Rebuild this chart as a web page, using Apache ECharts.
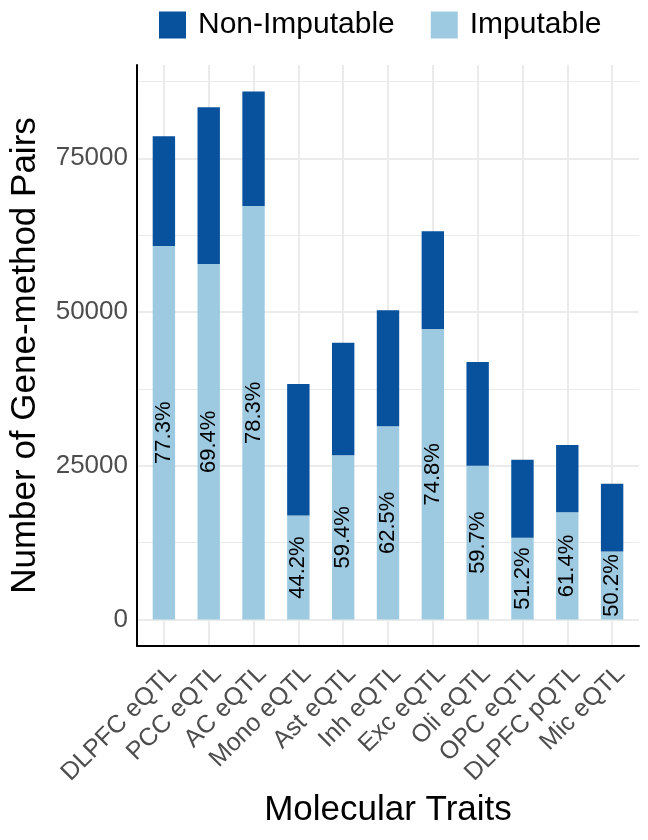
<!DOCTYPE html>
<html>
<head>
<meta charset="utf-8">
<script src="https://cdn.jsdelivr.net/npm/echarts@6/dist/echarts.min.js"></script>
<style>
  html, body { margin: 0; padding: 0; background: #fff; }
  #chart { width: 648px; height: 840px; }
</style>
</head>
<body>
<div id="chart"></div>
<script>
// molecular traits, left to right
var traits = ["DLPFC eQTL", "PCC eQTL", "AC eQTL", "Mono eQTL", "Ast eQTL", "Inh eQTL",
  "Exc eQTL", "Oli eQTL", "OPC eQTL", "DLPFC pQTL", "Mic eQTL"];
// gene-method pairs
var imputable = [60760, 57810, 67240, 16930, 26730, 31440, 47240, 25010, 13310, 17440, 11090];
var nonImputable = [17840, 25490, 18640, 21370, 18270, 18860, 15910, 16890, 12690, 10960, 11010];
var pctLabels = ["77.3%", "69.4%", "78.3%", "44.2%", "59.4%", "62.5%", "74.8%", "59.7%", "51.2%", "61.4%", "50.2%"];
var yTicks = [0, 25000, 50000, 75000];
var yMinor = [12500, 37500, 62500, 87500];
var xTicks = [0, 1, 2, 3, 4, 5, 6, 7, 8, 9, 10];

var font = "Liberation Sans, Arial, sans-serif";
var chart = echarts.init(document.getElementById("chart"));

// value first, trait index second, so the stack goes along y
function rows(vals) {
  return vals.map(function (v, i) { return [v, i]; });
}

chart.setOption({
  animation: false,
  textStyle: { fontFamily: font },
  legend: {
    data: ["Non-Imputable", "Imputable"],
    left: 154,
    top: 5,
    icon: "rect",
    itemWidth: 27,
    itemHeight: 27,
    itemGap: 36,
    selectedMode: false,
    textStyle: { fontSize: 30, color: "#000", padding: [0, 0, 0, 7] }
  },
  grid: { left: 137, right: 9, top: 65, bottom: 194, outerBoundsMode: "none", containLabel: false },
  xAxis: {
    type: "value",
    min: -0.6,
    max: 10.6,
    name: "Molecular Traits",
    nameLocation: "middle",
    nameGap: 147,
    nameTextStyle: { fontSize: 35, color: "#000" },
    axisLine: { show: true, onZero: false, lineStyle: { color: "#000", width: 2 } },
    axisTick: { show: false, customValues: xTicks },
    axisLabel: {
      customValues: xTicks,
      rotate: 45,
      align: "right",
      verticalAlign: "top",
      margin: 15,
      fontSize: 25,
      color: "#4D4D4D",
      formatter: function (v) { return traits[Math.round(v)]; }
    },
    splitLine: { show: true, lineStyle: { color: "#EBEBEB", width: 2 } }
  },
  yAxis: {
    type: "value",
    min: -4294,
    max: 90170,
    name: "Number of Gene-method Pairs",
    nameLocation: "middle",
    nameRotate: 90,
    nameGap: 94,
    nameTextStyle: { fontSize: 35, color: "#000" },
    axisLine: { show: true, onZero: false, lineStyle: { color: "#000", width: 2 } },
    axisTick: { show: false, customValues: yTicks },
    axisLabel: {
      customValues: yTicks,
      margin: 9,
      fontSize: 26,
      color: "#4D4D4D",
      formatter: function (v) { return String(v); }
    },
    splitLine: { show: true, lineStyle: { color: "#EBEBEB", width: 2 } }
  },
  series: [
    {
      // minor grid lines, kept under the bars
      type: "line",
      name: "grid",
      z: 0,
      data: [],
      markLine: {
        z: 0,
        silent: true,
        symbol: "none",
        label: { show: false },
        lineStyle: { color: "#EBEBEB", width: 1, type: "solid" },
        data: yMinor.map(function (v) { return { yAxis: v }; })
      }
    },
    {
      name: "Imputable",
      type: "bar",
      stack: "pairs",
      z: 3,
      barWidth: 22.4,
      encode: { x: 1, y: 0 },
      itemStyle: { color: "#9ECAE1" },
      label: {
        show: true,
        position: "inside",
        rotate: 90,
        fontSize: 22,
        color: "#000",
        formatter: function (p) { return pctLabels[p.dataIndex]; }
      },
      data: rows(imputable)
    },
    {
      name: "Non-Imputable",
      type: "bar",
      stack: "pairs",
      z: 3,
      barWidth: 22.4,
      encode: { x: 1, y: 0 },
      itemStyle: { color: "#08519C" },
      data: rows(nonImputable)
    }
  ]
});
</script>
</body>
</html>
